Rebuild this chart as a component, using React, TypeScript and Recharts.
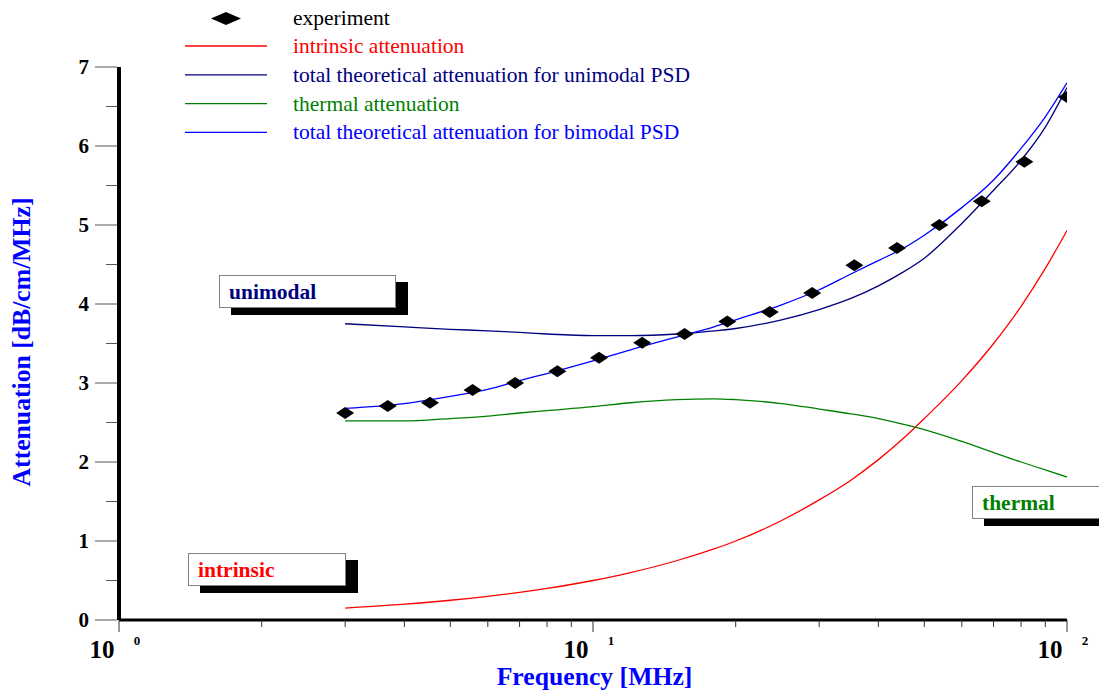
import { ComposedChart, Line, Scatter, XAxis, YAxis, Legend } from "recharts"

const FREQ = [3, 4, 5, 6, 7, 8, 10, 12, 15, 18, 20, 25, 30, 35, 40, 45, 50, 60, 70, 80, 90, 100]
const INTRINSIC = [0.15, 0.2, 0.25, 0.3, 0.35, 0.4, 0.5, 0.6, 0.75, 0.9, 1.0, 1.26, 1.52, 1.77, 2.03, 2.29, 2.55, 3.03, 3.5, 3.97, 4.45, 4.93]
const THERMAL = [2.52, 2.52, 2.55, 2.58, 2.62, 2.65, 2.7, 2.75, 2.79, 2.8, 2.79, 2.74, 2.67, 2.61, 2.55, 2.48, 2.41, 2.26, 2.12, 2.0, 1.9, 1.81]
const UNIMODAL = [3.75, 3.71, 3.68, 3.66, 3.64, 3.62, 3.6, 3.6, 3.62, 3.66, 3.69, 3.8, 3.93, 4.07, 4.23, 4.4, 4.58, 5.02, 5.44, 5.82, 6.24, 6.74]
const BIMODAL = [2.68, 2.74, 2.83, 2.92, 3.03, 3.12, 3.28, 3.42, 3.58, 3.71, 3.8, 3.99, 4.18, 4.38, 4.55, 4.7, 4.87, 5.22, 5.57, 5.97, 6.37, 6.8]

const EXP_FREQ = [3, 3.69, 4.53, 5.57, 6.85, 8.41, 10.3, 12.7, 15.6, 19.2, 23.6, 29.0, 35.6, 43.8, 53.8, 66.1, 81.3, 100]
const EXP_ATT = [2.62, 2.71, 2.75, 2.91, 3.0, 3.15, 3.32, 3.51, 3.62, 3.78, 3.9, 4.14, 4.49, 4.71, 5.0, 5.3, 5.8, 6.62]

const X_TICKS = [1, 2, 3, 4, 5, 6, 7, 8, 9, 10, 20, 30, 40, 50, 60, 70, 80, 90, 100]
const Y_TICKS = [0, 0.5, 1, 1.5, 2, 2.5, 3, 3.5, 4, 4.5, 5, 5.5, 6, 6.5, 7]
const DECADE_EXP: Record<number, string> = { 1: "0", 10: "1", 100: "2" }

const SERIF = "'Liberation Serif', 'Times New Roman', serif"
const NAVY = "#00007f"

const toPoints = (vals: number[]) => FREQ.map((f, i) => ({ f, v: vals[i] }))
const expData = EXP_FREQ.map((f, i) => ({ f, v: EXP_ATT[i] }))

function XTick({ x, y, payload }: any) {
  const v = payload.value
  const major = v in DECADE_EXP
  return (
    <g>
      <line x1={x} x2={x} y1={y} y2={y + (major ? 12 : 7)} stroke="#333" strokeWidth={1} />
      {major && (
        <>
          <text x={x - 17} y={y + 38} textAnchor="middle" fontFamily={SERIF} fontWeight="bold" fontSize={25} fill="#000">10</text>
          <text x={x + 18} y={y + 25} textAnchor="middle" fontFamily={SERIF} fontWeight="bold" fontSize={13} fill="#000">{DECADE_EXP[v]}</text>
        </>
      )}
    </g>
  )
}

function YTick({ x, y, payload }: any) {
  const v = payload.value
  const major = Number.isInteger(v)
  return (
    <g>
      <line x1={x - (major ? 24 : 13)} x2={x - 2} y1={y} y2={y} stroke="#555" strokeWidth={1} />
      {major && (
        <text x={x - 30} y={y + 7} textAnchor="end" fontFamily={SERIF} fontWeight="bold" fontSize={21} fill="#000">{v}</text>
      )}
    </g>
  )
}

function Diamond({ cx, cy }: any) {
  return <polygon points={`${cx - 9},${cy} ${cx},${cy - 6} ${cx + 9},${cy} ${cx},${cy + 6}`} fill="#000" />
}

const LEGEND_ROWS = [
  { label: "intrinsic attenuation", color: "#ff0000" },
  { label: "total theoretical attenuation for unimodal PSD", color: NAVY },
  { label: "thermal attenuation", color: "#008000" },
  { label: "total theoretical attenuation for bimodal PSD", color: "#0000ff" },
]

function LegendBox() {
  return (
    <svg width={560} height={150} style={{ display: "block" }}>
      <polygon points="31,18.5 46,12 61,18.5 46,25" fill="#000" />
      <text x={113} y={25} fontFamily={SERIF} fontSize={21.5} fill="#000">experiment</text>
      {LEGEND_ROWS.map((r, i) => (
        <g key={r.label}>
          <line x1={5} x2={87} y1={46 + i * 28.8} y2={46 + i * 28.8} stroke={r.color} strokeWidth={1.3} />
          <text x={113} y={53 + i * 28.8} fontFamily={SERIF} fontSize={21.5} fill={r.color}>{r.label}</text>
        </g>
      ))}
    </svg>
  )
}

function Tag({ text, color, left, top, width }: { text: string; color: string; left: number; top: number; width: number }) {
  return (
    <>
      <div style={{ position: "absolute", left: left + 12, top: top + 7, width, height: 33, background: "#000" }} />
      <div
        style={{
          position: "absolute", left, top, width: width - 11, height: 31, background: "#fff",
          border: "1px solid #808080", fontFamily: SERIF, fontWeight: "bold", fontSize: 21.5,
          color, lineHeight: "33px", paddingLeft: 9,
        }}
      >
        {text}
      </div>
    </>
  )
}

export default function App() {
  return (
    <div style={{ position: "absolute", left: 0, top: 0, width: 1099, height: 695, background: "#fff", overflow: "hidden" }}>
      <ComposedChart width={1099} height={695} margin={{ top: 67, right: 32, bottom: 74, left: 118 }}>
        <XAxis
          type="number" dataKey="f" scale="log" domain={[1, 100]} ticks={X_TICKS}
          allowDataOverflow height={1} tickSize={0} tickMargin={0} tickLine={false}
          axisLine={{ stroke: "#000", strokeWidth: 3 }} tick={<XTick />} interval={0}
        />
        <YAxis
          type="number" domain={[0, 7]} ticks={Y_TICKS} width={1} tickSize={0} tickMargin={0}
          tickLine={false} axisLine={{ stroke: "#000", strokeWidth: 4 }} tick={<YTick />} interval={0}
        />
        <Legend
          layout="horizontal" verticalAlign="middle" align="center"
          wrapperStyle={{ position: "absolute", left: 180, top: 0, width: 560 }}
          content={() => <LegendBox />}
        />
        <Line data={toPoints(INTRINSIC)} dataKey="v" type="monotone" stroke="#ff0000" strokeWidth={1.3} dot={false} isAnimationActive={false} />
        <Line data={toPoints(THERMAL)} dataKey="v" type="monotone" stroke="#008000" strokeWidth={1.3} dot={false} isAnimationActive={false} />
        <Line data={toPoints(UNIMODAL)} dataKey="v" type="monotone" stroke={NAVY} strokeWidth={1.3} dot={false} isAnimationActive={false} />
        <Line data={toPoints(BIMODAL)} dataKey="v" type="monotone" stroke="#0000ff" strokeWidth={1.3} dot={false} isAnimationActive={false} />
        <Scatter data={expData} dataKey="v" shape={<Diamond />} isAnimationActive={false} />
      </ComposedChart>

      <Tag text="unimodal" color={NAVY} left={219} top={275} width={177} />
      <Tag text="intrinsic" color="#ff0000" left={188} top={553} width={158} />
      <Tag text="thermal" color="#008000" left={972} top={486} width={140} />

      <div style={{ position: "absolute", left: 0, width: 1099, top: 662, textAlign: "center", paddingLeft: 90, boxSizing: "border-box", fontFamily: SERIF, fontWeight: "bold", fontSize: 25.7, color: "#0000ff" }}>
        Frequency [MHz]
      </div>
      <div style={{ position: "absolute", left: 22, top: 342, width: 0, height: 0 }}>
        <div style={{ position: "absolute", transform: "translate(-50%, -50%) rotate(-90deg)", whiteSpace: "nowrap", fontFamily: SERIF, fontWeight: "bold", fontSize: 25.7, color: "#0000ff" }}>
          Attenuation [dB/cm/MHz]
        </div>
      </div>
    </div>
  )
}
